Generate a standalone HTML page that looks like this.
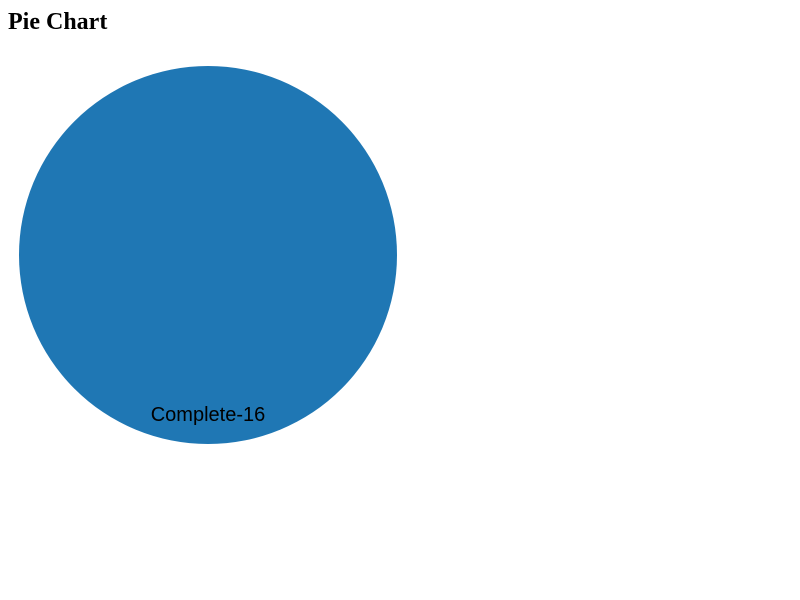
<!DOCTYPE html>
<html>
<head>
<meta charset="utf-8">
<style>
  html, body { margin: 0; padding: 0; background: #fff; width: 800px; height: 600px; overflow: hidden; }
  h1 { position: absolute; left: 8px; top: 9px; margin: 0; font: bold 24px "Liberation Serif", serif; color: #000; }
  svg { position: absolute; left: 0; top: 0; }
</style>
</head>
<body>
<h1>Pie Chart</h1>
<svg id="chart" width="800" height="600"></svg>
<script>
const categories = ["Complete"];
const values = [16];
const colors = ["#1f77b4"];

const svg = document.getElementById('chart');
const ns = 'http://www.w3.org/2000/svg';
const cx = 208, cy = 255, r = 189;
const total = values.reduce((a, b) => a + b, 0);
let start = 0;
for (let i = 0; i < values.length; i++) {
  const frac = values[i] / total;
  const end = start + frac * Math.PI * 2;
  let shape;
  if (frac >= 0.9999) {
    shape = document.createElementNS(ns, 'circle');
    shape.setAttribute('cx', cx);
    shape.setAttribute('cy', cy);
    shape.setAttribute('r', r);
  } else {
    shape = document.createElementNS(ns, 'path');
    const x0 = cx + r * Math.sin(start), y0 = cy - r * Math.cos(start);
    const x1 = cx + r * Math.sin(end), y1 = cy - r * Math.cos(end);
    const large = (end - start) > Math.PI ? 1 : 0;
    shape.setAttribute('d', `M${cx},${cy}L${x0},${y0}A${r},${r} 0 ${large} 1 ${x1},${y1}Z`);
  }
  shape.setAttribute('fill', colors[i % colors.length]);
  
  
  svg.appendChild(shape);

  const mid = (start + end) / 2;
  const lr = r * 0.84;
  const t = document.createElementNS(ns, 'text');
  t.setAttribute('x', cx + lr * Math.sin(mid));
  t.setAttribute('y', cy - lr * Math.cos(mid) + 7);
  t.setAttribute('text-anchor', 'middle');
  t.setAttribute('font-family', 'Liberation Sans, Arial, sans-serif');
  t.setAttribute('font-size', '20');
  t.setAttribute('fill', '#000');
  t.textContent = categories[i] + '-' + values[i];
  
  
  svg.appendChild(t);
  start = end;
}
</script>
</body>
</html>
